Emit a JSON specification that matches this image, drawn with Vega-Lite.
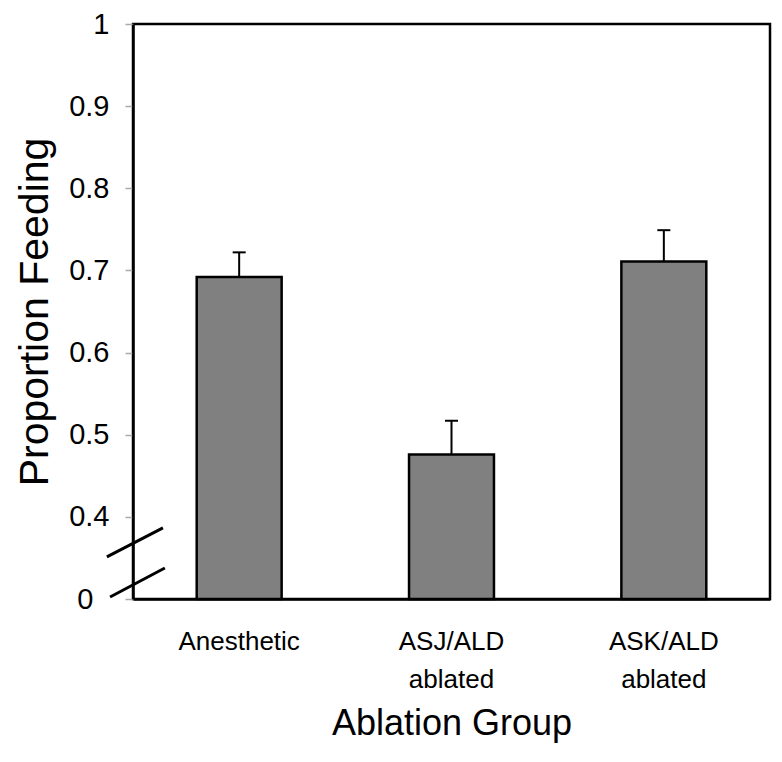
{
  "$schema": "https://vega.github.io/schema/vega-lite/v6.json",
  "width": 637,
  "height": 575,
  "autosize": {"type": "none"},
  "padding": {"left": 133, "top": 24, "right": 12, "bottom": 163},
  "background": "white",
  "config": {
    "view": {"stroke": "black", "strokeWidth": 2.5},
    "font": "Liberation Sans",
    "axis": {"labelColor": "black", "titleColor": "black", "titleFontWeight": "normal", "grid": false, "domainColor": "black", "domainWidth": 2.5, "labelFont": "Liberation Sans", "titleFont": "Liberation Sans"}
  },
  "datasets": {
    "bars": [
      {"group": "Anesthetic", "proportion": 0.692, "upper": 0.722},
      {"group": "ASJ/ALD ablated", "proportion": 0.476, "upper": 0.517},
      {"group": "ASK/ALD ablated", "proportion": 0.711, "upper": 0.749}
    ],
    "breaks": [
      {"bx": -0.041, "by": 0.3512, "bx2": 0.047, "by2": 0.3866},
      {"bx": -0.036, "by": 0.3024, "bx2": 0.05, "by2": 0.3378}
    ]
  },
  "layer": [
    {
      "data": {"name": "bars"},
      "layer": [
        {
          "mark": {"type": "bar", "fill": "#808080", "stroke": "black", "strokeWidth": 2.5},
          "encoding": {
            "x": {
              "field": "group", "type": "nominal", "sort": null,
              "scale": {"paddingInner": 0.6, "paddingOuter": 0.3},
              "axis": {
                "title": "Ablation Group", "labelAngle": 0, "ticks": false,
                "labelPadding": 29, "labelFontSize": 26, "labelLineHeight": 38,
                "labelBaseline": "top",
                "labelExpr": "split(datum.label, ' ')",
                "titleFontSize": 36, "titlePadding": 14
              }
            },
            "y": {
              "field": "proportion", "type": "quantitative",
              "scale": {"domain": [0.3, 1], "zero": false, "nice": false},
              "axis": {
                "title": "Proportion Feeding",
                "values": [0.3, 0.4, 0.5, 0.6, 0.7, 0.8, 0.9, 1],
                "labelExpr": "datum.value < 0.35 ? '0' : datum.value > 0.95 ? '1' : format(datum.value, '.1f')",
                "tickSize": 8, "tickColor": "#aaaaaa", "tickWidth": 1.5,
                "labelPadding": {"condition": {"test": "datum.value < 0.35", "value": 32}, "value": 16},
                "labelFontSize": 29,
                "titleFontSize": 41, "titlePadding": 12
              }
            },
            "y2": {"datum": 0.3}
          }
        },
        {
          "mark": {"type": "rule", "stroke": "black", "strokeWidth": 2},
          "encoding": {
            "x": {"field": "group", "type": "nominal", "sort": null},
            "y": {"field": "proportion", "type": "quantitative"},
            "y2": {"field": "upper"}
          }
        },
        {
          "mark": {"type": "tick", "orient": "horizontal", "size": 13, "thickness": 2, "color": "black", "opacity": 1},
          "encoding": {
            "x": {"field": "group", "type": "nominal", "sort": null},
            "y": {"field": "upper", "type": "quantitative"}
          }
        }
      ]
    },
    {
      "data": {"name": "breaks"},
      "mark": {"type": "rule", "stroke": "black", "strokeWidth": 3},
      "encoding": {
        "x": {"field": "bx", "type": "quantitative", "scale": {"domain": [0, 1], "nice": false, "zero": false}, "axis": null},
        "x2": {"field": "bx2"},
        "y": {"field": "by", "type": "quantitative"},
        "y2": {"field": "by2"}
      }
    }
  ],
  "resolve": {"scale": {"x": "independent"}, "axis": {"x": "independent"}}
}
